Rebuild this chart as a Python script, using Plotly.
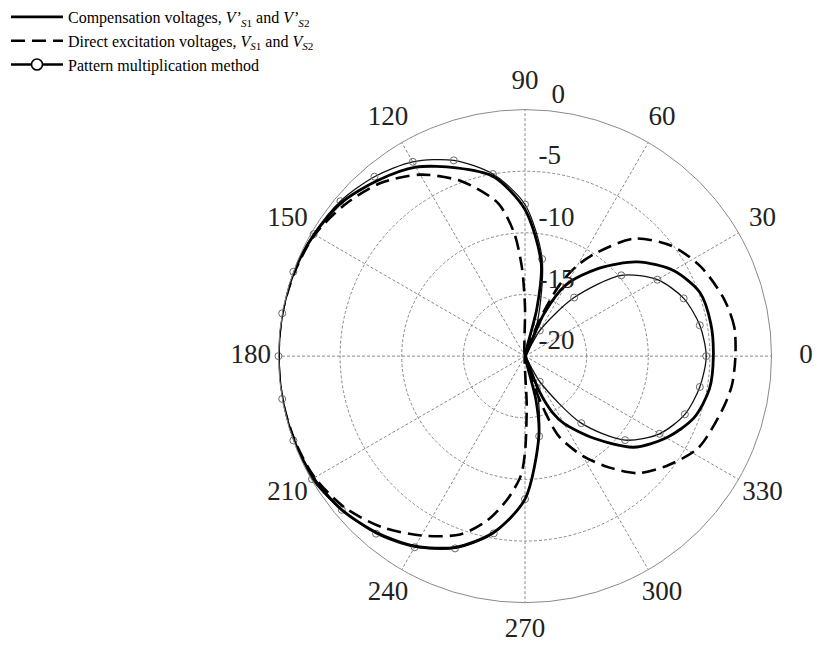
import plotly.graph_objects as go

# ---------------- data (dB) ----------------
comp_theta = [0, 10, 20, 30, 40, 50, 60, 66, 71, 76, 80, 90, 100, 110, 120, 130, 140, 150,
              160, 170, 180, 190, 200, 210, 220, 230, 240, 250, 260, 270, 280, 284, 288,
              292, 296, 300, 310, 320, 330, 340, 350, 360]
comp_db = [-4.72, -4.7, -4.9, -6.1, -8.1, -10.7, -13.3, -16.3, -20, -16, -12.4, -8.1, -5.2,
           -3.74, -2.3, -1.4, -0.6, -0.25, -0.05, 0, 0, 0, -0.05, -0.2, -0.6, -1.3, -2.2,
           -3.5, -5.5, -8.4, -13.5, -16.3, -20, -17.0, -14.9, -13.7, -11.3, -8.5, -6.75,
           -5.4, -4.8, -4.72]

direct_theta = [0, 8, 16, 27, 37, 47, 55, 60, 64, 67, 70, 80, 90, 92, 95, 100, 110, 120,
                130, 140, 150, 160, 170, 180, 190, 200, 210, 220, 230, 240, 250, 257, 263,
                268, 270, 272, 280, 287, 290, 293, 300, 307, 314, 322, 332, 345, 352, 360]
direct_db = [-2.93, -2.86, -3.2, -4.0, -5.13, -6.96, -9.7, -11.5, -13.5, -16, -18.5, -20,
             -16, -12.8, -10, -7.4, -4.9, -3.0, -1.7, -0.9, -0.3, -0.1, 0, 0, 0, -0.1, -0.3,
             -0.9, -1.9, -3.2, -4.6, -6.3, -8.3, -10.3, -12.2, -16, -20, -17.5, -15, -12.9,
             -10.65, -8.7, -6.8, -5.5, -4.1, -3.4, -3.05, -2.93]

pm_theta = [0, 10, 20, 30, 40, 50, 60, 65, 70, 80, 90, 100, 110, 120, 130, 140, 150, 160,
            170, 180, 190, 200, 210, 220, 230, 240, 250, 260, 270, 280, 290, 295, 300, 310,
            320, 330, 340, 350, 360]
pm_db = [-5.3, -5.6, -6.3, -7.6, -9.8, -13.8, -17.6, -20, -17.1, -12.0, -7.7, -5.0, -3.1,
         -1.8, -1.0, -0.45, -0.2, 0, 0, 0, 0, 0, -0.05, -0.6, -1.2, -2.1, -3.4, -5.4, -8.4,
         -13.4, -17.2, -20, -17.6, -12.9, -9.4, -7.4, -6.2, -5.6, -5.3]

angle_ticks = [0, 30, 60, 90, 120, 150, 180, 210, 240, 270, 300, 330]
radial_ticks = [-20, -15, -10, -5, 0]
radial_label_theta = [90, 90, 90, 90, 87]

names = [
    "Compensation voltages, <i>V’</i><sub><i>S</i>1</sub> and <i>V’</i><sub><i>S</i>2</sub>",
    "Direct excitation voltages, <i>V</i><sub><i>S</i>1</sub> and <i>V</i><sub><i>S</i>2</sub>",
    "Pattern multiplication method",
]

SERIF = "Liberation Serif"
GRID = "#8a8a8a"

fig = go.Figure()

# thin line of the pattern-multiplication method
fig.add_trace(go.Scatterpolar(
    r=pm_db, theta=pm_theta, mode="lines", showlegend=False,
    line=dict(color="#111111", width=1.3, shape="spline", smoothing=0.8)))
# its markers every 10 degrees
pm_mk = [(t, v) for t, v in zip(pm_theta, pm_db) if t % 10 == 0 and t < 360]
fig.add_trace(go.Scatterpolar(
    r=[v for _, v in pm_mk], theta=[t for t, _ in pm_mk], mode="markers", showlegend=False,
    marker=dict(symbol="circle-open", size=7, color="#6a6a6a", line=dict(width=1))))
# compensation voltages
fig.add_trace(go.Scatterpolar(
    r=comp_db, theta=comp_theta, mode="lines", name=names[0],
    line=dict(color="black", width=2.8, shape="spline", smoothing=0.8)))
# direct excitation
fig.add_trace(go.Scatterpolar(
    r=direct_db, theta=direct_theta, mode="lines", name=names[1],
    line=dict(color="black", width=2.6, dash="14px,7px", shape="spline", smoothing=0.8)))
# legend entry for the pattern multiplication method
fig.add_trace(go.Scatterpolar(
    r=[None], theta=[None], mode="lines+markers", name=names[2],
    line=dict(color="black", width=2.6),
    marker=dict(symbol="circle", size=11, color="white", line=dict(color="black", width=1.6))))
# radial tick labels
fig.add_trace(go.Scatterpolar(
    r=radial_ticks, theta=radial_label_theta, mode="text", showlegend=False,
    text=["\u2002" + str(v) for v in radial_ticks], textposition="top right",
    cliponaxis=False, textfont=dict(family=SERIF, size=27, color="#222222"),
    hoverinfo="skip"))
# angular tick labels, on a concentric helper subplot whose rim lies just outside the 0 dB ring
fig.add_trace(go.Scatterpolar(
    r=[1] * len(angle_ticks), theta=angle_ticks, mode="text", showlegend=False,
    subplot="polar2",
    text=[str(a) for a in angle_ticks],
    textposition=["middle right"] + ["middle center"] * (len(angle_ticks) - 1),
    cliponaxis=False, textfont=dict(family=SERIF, size=27, color="#222222"),
    hoverinfo="skip"))

CX, CY, R, RL = 525, 298, 250, 278   # centre (from bottom), ring radius, label radius (px)
fig.update_layout(
    width=824, height=650,
    margin=dict(l=0, r=0, t=0, b=0),
    paper_bgcolor="white", plot_bgcolor="white",
    font=dict(family=SERIF, color="#111111"),
    polar=dict(
        domain=dict(x=[(CX - R) / 824, (CX + R) / 824], y=[(CY - R) / 650, (CY + R) / 650]),
        bgcolor="white",
        radialaxis=dict(range=[-20, 0], tickvals=[-15, -10, -5], showticklabels=False,
                        ticks="", showline=False, gridcolor=GRID, gridwidth=1,
                        griddash="3px,2px", angle=90),
        angularaxis=dict(direction="counterclockwise", rotation=0, tickvals=angle_ticks,
                         showticklabels=False, ticks="",
                         showline=True, linecolor=GRID, linewidth=1,
                         gridcolor=GRID, gridwidth=1, griddash="3px,2px"),
    ),
    polar2=dict(
        domain=dict(x=[(CX - RL) / 824, (CX + RL) / 824], y=[(CY - RL) / 650, (CY + RL) / 650]),
        bgcolor="rgba(0,0,0,0)",
        radialaxis=dict(range=[0, 1], visible=False),
        angularaxis=dict(direction="counterclockwise", rotation=0, visible=False),
    ),
    legend=dict(x=6 / 824, y=1.014, xanchor="left", yanchor="top", bgcolor="rgba(0,0,0,0)",
                font=dict(family=SERIF, size=16, color="black"), itemwidth=52,
                tracegroupgap=0),
)

fig.write_html("out.html")
